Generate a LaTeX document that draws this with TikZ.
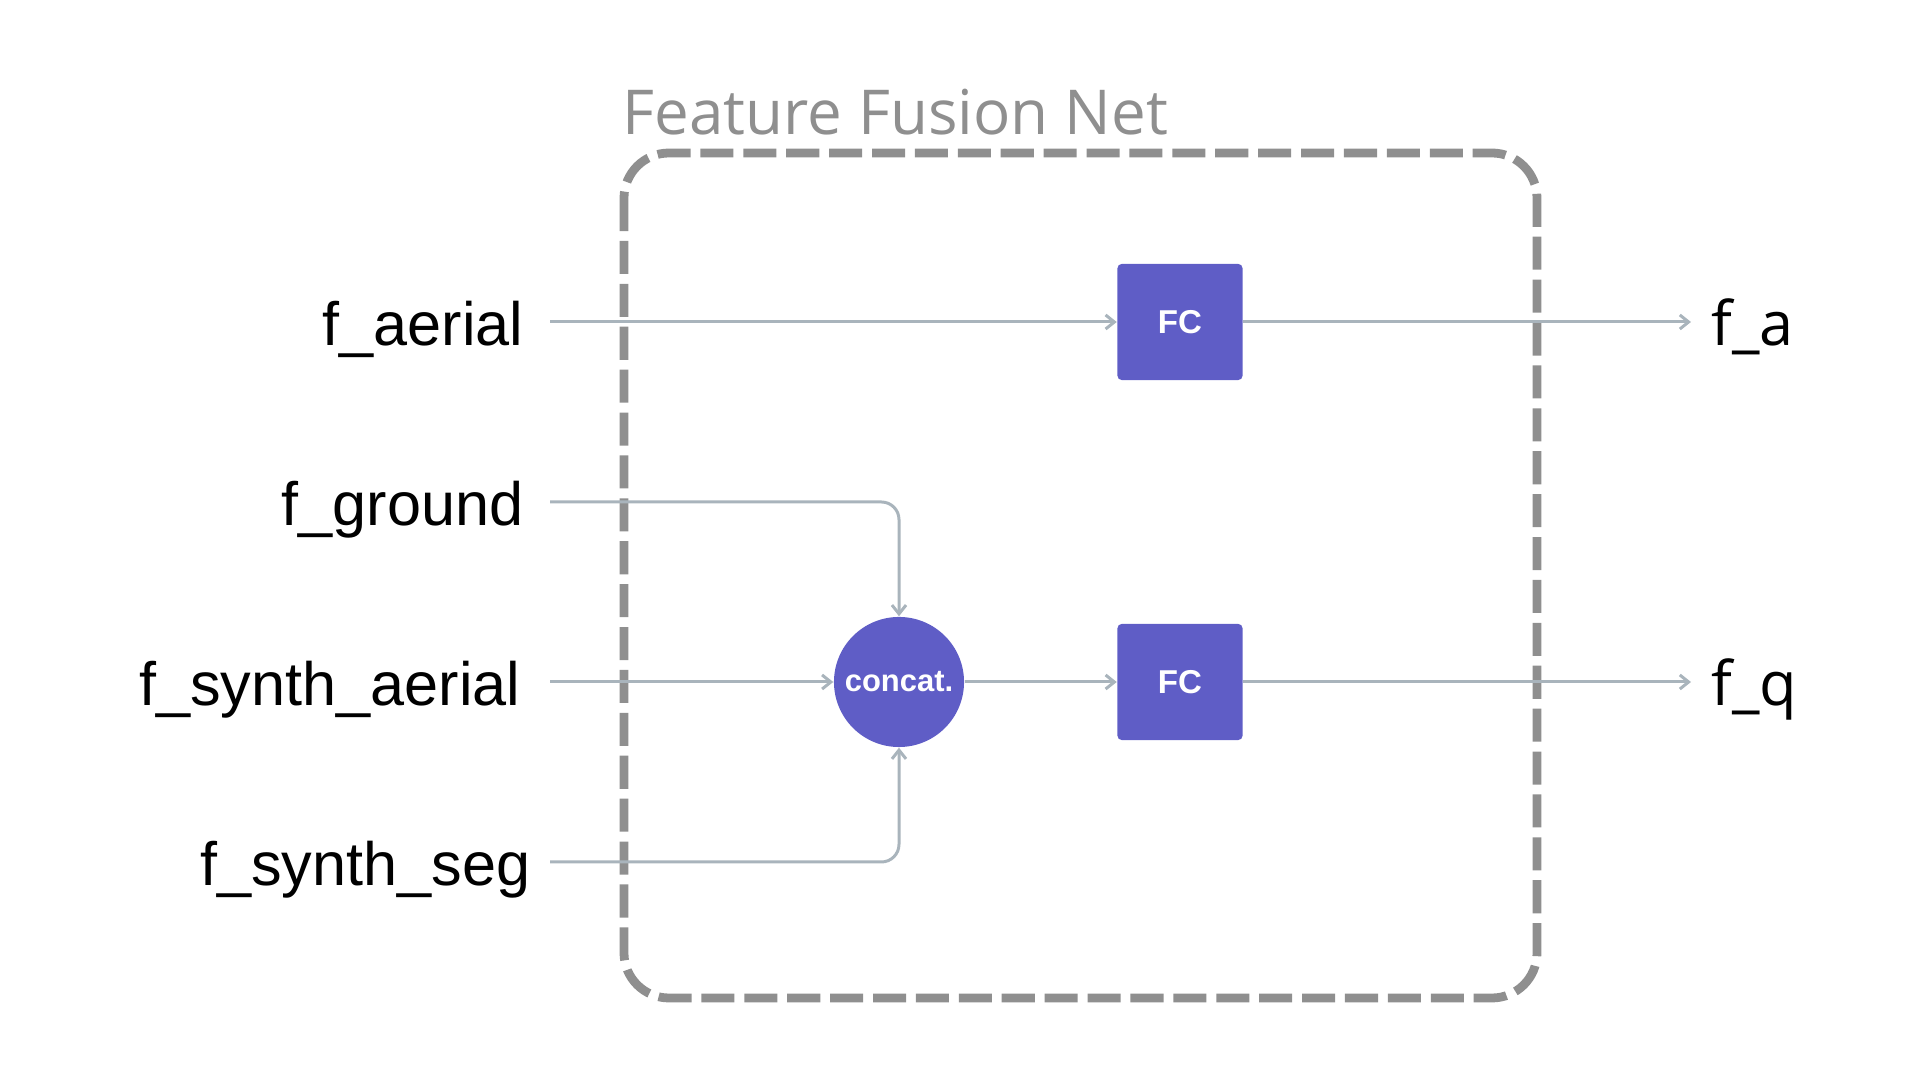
\documentclass[tikz,border=0pt]{standalone}
\usepackage{fontspec}
\setmainfont{Liberation Sans}
\newfontfamily\plexfont{Open Sans}
\usetikzlibrary{arrows.meta,positioning}
\definecolor{fcpurple}{HTML}{5F5DC6}
\definecolor{wiregrey}{HTML}{A9B4BC}
\definecolor{framegrey}{HTML}{8F8F8F}
\tikzset{
  feat/.style={font=\fontsize{17.4}{20}\selectfont, inner sep=0pt},
  outfeat/.style={font=\plexfont\fontsize{17.4}{20}\selectfont, inner sep=0pt},
  fcbox/.style={fill=fcpurple, rounded corners=1.2pt, minimum width=1.25cm,
    minimum height=1.16cm, text=white, font=\bfseries\fontsize{9.4}{11}\selectfont},
  catnode/.style={circle, fill=fcpurple, minimum size=1.3cm, inner sep=0pt,
    text=white, font=\bfseries\fontsize{8.8}{10}\selectfont},
  wire/.style={draw=wiregrey, line width=0.85pt, rounded corners=5pt,
    -{Straight Barb[length=2.5pt,width=4pt]}}
}
\begin{document}
\begin{tikzpicture}[x=0.01cm, y=-0.01cm]
    \useasboundingbox (0,0) rectangle (1920,1080);
    % frame of the net
    \draw[framegrey, line width=2.5pt, dash pattern=on 9.4pt off 2.8pt,
      rounded corners=12.8pt] (624,153) rectangle (1537,998);
    \node[anchor=base west, inner sep=0pt, text=framegrey,
      font=\plexfont\fontsize{17.6}{21}\selectfont] (title) at (622,135) {Feature Fusion Net};
    % inputs
    \node[feat, anchor=base east] (aerial) at (524,346) {f\_aerial};
    \node[feat, anchor=base east] (ground) at (524,526) {f\_ground};
    \node[feat, anchor=base east] (synaerial) at (521,706) {f\_synth\_aerial};
    \node[feat, anchor=base east] (synseg) at (531,886) {f\_synth\_seg};
    \coordinate (aerialin) at (550,322);
    \coordinate (groundin) at (550,502);
    \coordinate (synaerialin) at (550,682);
    \coordinate (synsegin) at (550,862);
    % blocks
    \node[fcbox] (fctop) at (1180,322) {FC};
    \node[fcbox] (fcbot) at (1180,682) {FC};
    \node[catnode] (concat) at (899,682) {concat.};
    % outputs
    \coordinate (faout) at (1691,322);
    \coordinate (fqout) at (1691,682);
    \node[outfeat, anchor=base west] (fa) at (1711,346) {f\_a};
    \node[outfeat, anchor=base west] (fq) at (1711,706) {f\_q};
    % wires
    \draw[wire] (aerialin) -- (fctop);
    \draw[wire] (groundin) -| (concat);
    \draw[wire] (synaerialin) -- (concat);
    \draw[wire] (synsegin) -| (concat);
    \draw[wire] (concat) -- (fcbot);
    \draw[wire] (fctop) -- (faout);
    \draw[wire] (fcbot) -- (fqout);
\end{tikzpicture}
\end{document}
